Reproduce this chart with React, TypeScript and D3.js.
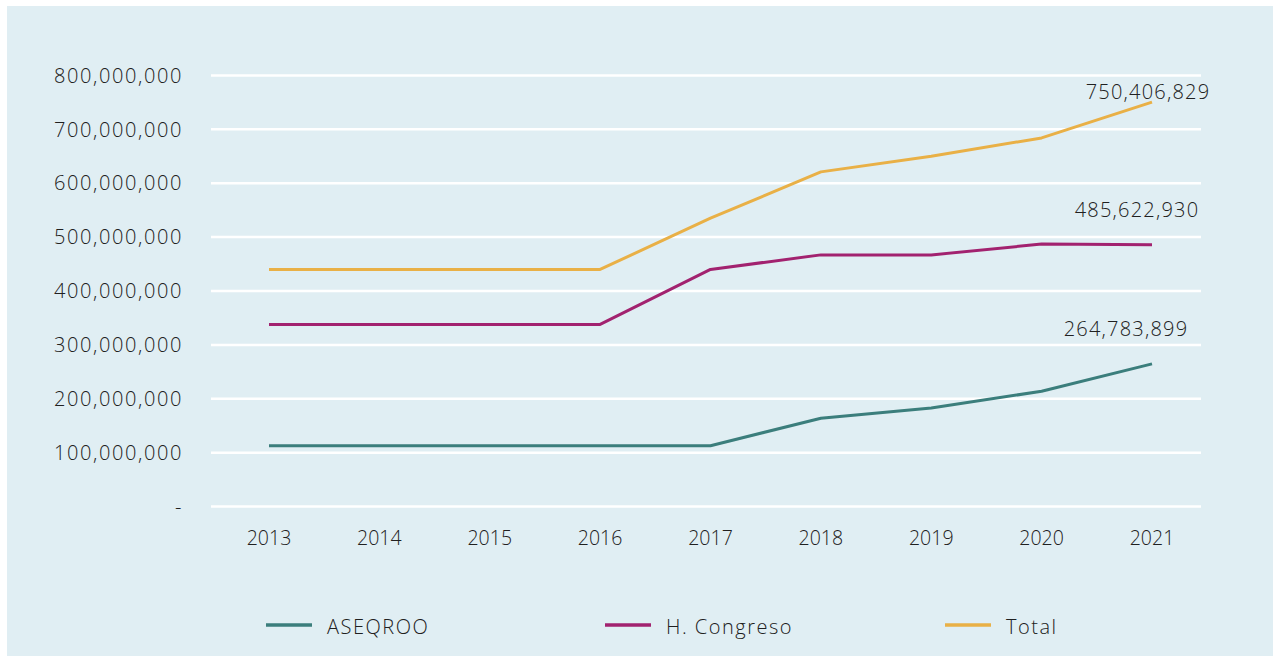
import React from "react";
import * as d3 from "d3";

const years = ["2013", "2014", "2015", "2016", "2017", "2018", "2019", "2020", "2021"];
const aseqroo = [113e6, 113e6, 113e6, 113e6, 113e6, 164e6, 183e6, 214e6, 264783899];
const congreso = [338e6, 338e6, 338e6, 338e6, 440e6, 467e6, 467e6, 487e6, 485622930];
const total = [440e6, 440e6, 440e6, 440e6, 535e6, 621e6, 650e6, 684e6, 750406829];
const yTicks = [0, 100e6, 200e6, 300e6, 400e6, 500e6, 600e6, 700e6, 800e6];

const seriesNames = ["ASEQROO", "H. Congreso", "Total"];
const seriesColors = ["#3b7e7c", "#a2226f", "#e9b046"];

const W = 1273;
const H = 656;
const FONT = "'Open Sans', sans-serif";
const TEXT = "#202020";

export default function App() {
  const x = d3.scalePoint<string>().domain(years).range([269, 1152]);
  const y = d3.scaleLinear().domain([0, 800e6]).range([506.6, 75.4]);
  const fmt = d3.format(",");
  const line = d3
    .line<number>()
    .x((_, i) => x(years[i]) as number)
    .y((d) => y(d))
    .curve(d3.curveLinear);

  const series = [aseqroo, congreso, total];
  const labelDx = [-26, -15, -4];
  const labelDy = [-35, -35, -10];
  const legendX = [266, 605, 945];

  return (
    <svg
      width={W}
      height={H}
      style={{ position: "absolute", left: 0, top: 0, display: "block" }}
      fontFamily={FONT}
    >
      <rect x={0} y={0} width={W} height={H} fill="#ffffff" />
      <rect x={7} y={6} width={W - 7} height={H - 6} fill="#e0eef3" />

      {yTicks.map((t) => (
        <g key={t}>
          <line x1={211} x2={1201} y1={y(t)} y2={y(t)} stroke="#ffffff" strokeWidth={2.5} />
          <text
            x={183}
            y={y(t)}
            dy="0.36em"
            textAnchor="end"
            fontSize={20}
            fontWeight={300}
            letterSpacing={1.6}
            fill={TEXT}
          >
            {t === 0 ? "-" : fmt(t)}
          </text>
        </g>
      ))}

      {years.map((yr) => (
        <text
          key={yr}
          x={x(yr)}
          y={538}
          dy="0.36em"
          textAnchor="middle"
          fontSize={19.5}
          fontWeight={300}
          fill={TEXT}
        >
          {yr}
        </text>
      ))}

      {series.map((s, i) => (
        <path
          key={seriesNames[i]}
          d={line(s) || ""}
          fill="none"
          stroke={seriesColors[i]}
          strokeWidth={3}
          strokeLinejoin="round"
        />
      ))}

      {series.map((s, i) => {
        const last = s.length - 1;
        return (
          <text
            key={"lbl" + i}
            x={(x(years[last]) as number) + labelDx[i]}
            y={y(s[last]) + labelDy[i]}
            dy="0.36em"
            textAnchor="middle"
            fontSize={20}
            fontWeight={300}
            letterSpacing={1.2}
            fill={TEXT}
          >
            {fmt(s[last])}
          </text>
        );
      })}

      {seriesNames.map((n, i) => (
        <g key={"leg" + n}>
          <line
            x1={legendX[i]}
            x2={legendX[i] + 46}
            y1={625}
            y2={625}
            stroke={seriesColors[i]}
            strokeWidth={3.5}
          />
          <text
            x={legendX[i] + 61}
            y={627}
            dy="0.36em"
            fontSize={20}
            fontWeight={300}
            letterSpacing={1.5}
            fill={TEXT}
          >
            {n}
          </text>
        </g>
      ))}
    </svg>
  );
}
